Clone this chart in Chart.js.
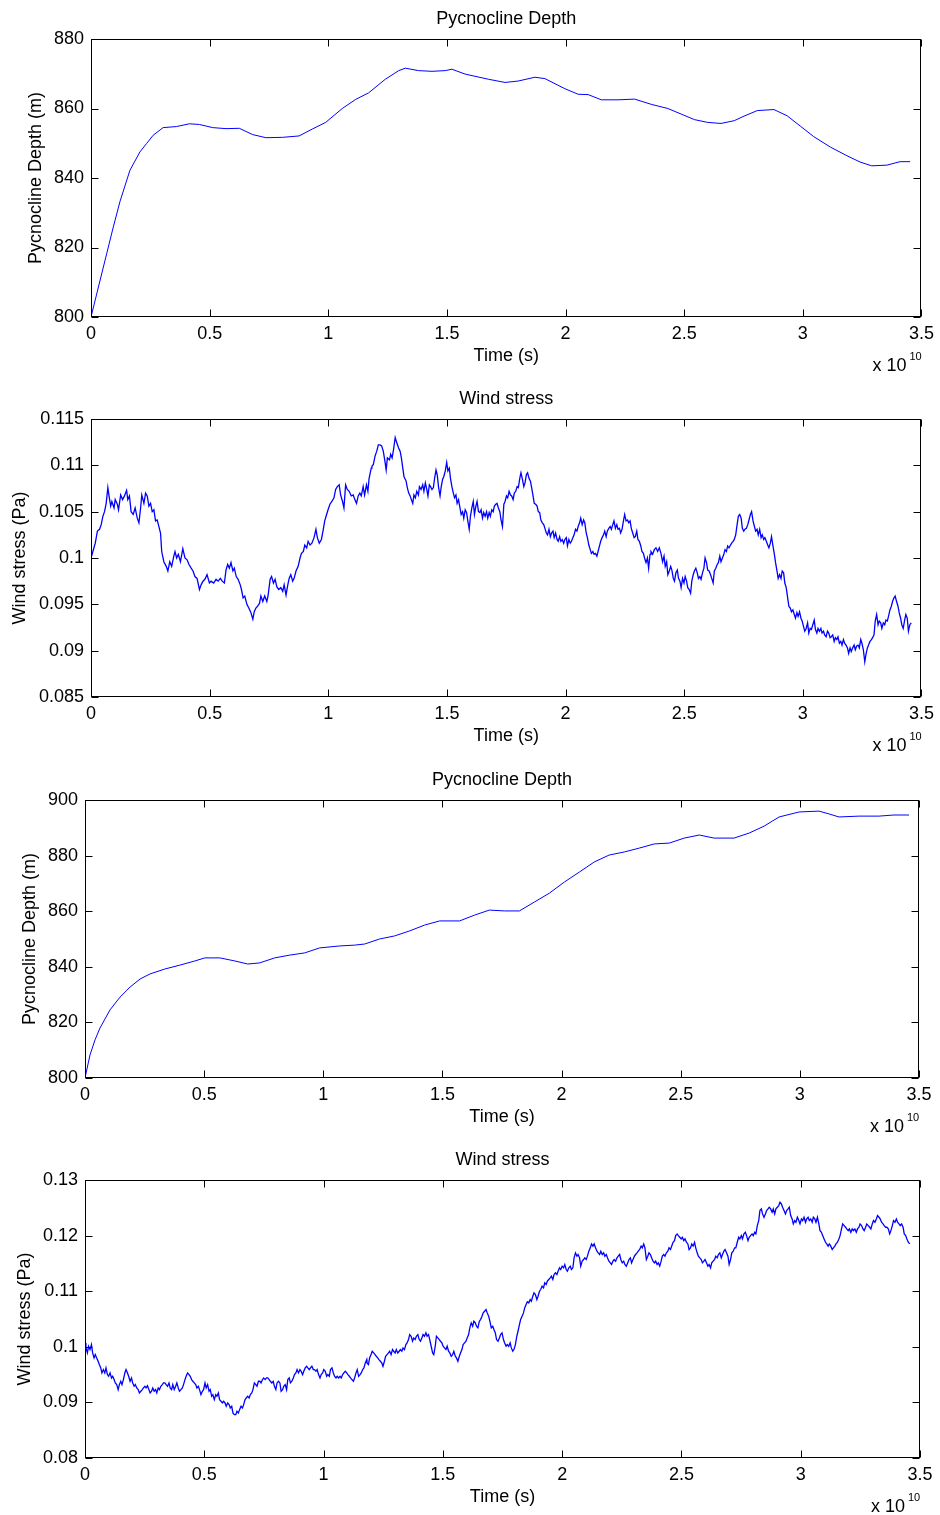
<!DOCTYPE html>
<html>
<head>
<meta charset="utf-8">
<title>Pycnocline depth and wind stress</title>
<script src="https://cdn.jsdelivr.net/npm/chart.js@4.4.1/dist/chart.umd.min.js"></script>
<style>
  html, body { margin: 0; padding: 0; background: #fff; overflow: hidden; }
  .panel { position: absolute; left: 0; width: 940px; }
  .panel canvas { display: block; }
</style>
</head>
<body>
<div class="panel" style="top:0px"><canvas id="depthA" width="940" height="380"></canvas></div>
<div class="panel" style="top:380px"><canvas id="windA" width="940" height="380"></canvas></div>
<div class="panel" style="top:760px"><canvas id="depthB" width="940" height="380"></canvas></div>
<div class="panel" style="top:1140px"><canvas id="windB" width="940" height="375"></canvas></div>
<script>
// Time axis is in units of 1e10 s
const timeTicks = [0, 0.5, 1, 1.5, 2, 2.5, 3, 3.5];
const depthTicksA = [800, 820, 840, 860, 880];
const windTicksA = [0.085, 0.09, 0.095, 0.1, 0.105, 0.11, 0.115];
const depthTicksB = [800, 820, 840, 860, 880, 900];
const windTicksB = [0.08, 0.09, 0.1, 0.11, 0.12, 0.13];

// Run A: pycnocline depth (m)
const depthTimeA = [0, 0.066, 0.094, 0.122, 0.164, 0.206, 0.234, 0.262, 0.304, 0.36, 0.415, 0.457, 0.513, 0.569, 0.625, 0.681, 0.737, 0.807, 0.877, 0.933,
  0.989, 1.059, 1.115, 1.17, 1.24, 1.297, 1.325, 1.38, 1.437, 1.493, 1.521, 1.577, 1.676, 1.745, 1.8, 1.871, 1.913, 1.997, 2.053, 2.095,
  2.151, 2.221, 2.291, 2.361, 2.431, 2.487, 2.543, 2.599, 2.655, 2.711, 2.752, 2.808, 2.878, 2.934, 2.99, 3.046, 3.116, 3.186, 3.241, 3.29,
  3.354, 3.41, 3.452];
const depthA = [800, 818.2, 825.9, 833.2, 842.2, 847.5, 849.9, 852.3, 854.5, 854.8, 855.6, 855.4, 854.5, 854.2, 854.3, 852.5, 851.6, 851.7, 852.1, 854.1,
  856.0, 860.0, 862.6, 864.5, 868.4, 870.9, 871.6, 870.9, 870.7, 870.9, 871.3, 869.9, 868.4, 867.5, 867.9, 869.0, 868.6, 865.7, 864.1, 864.0,
  862.5, 862.5, 862.7, 861.2, 860.0, 858.4, 856.8, 856.0, 855.7, 856.5, 857.8, 859.4, 859.7, 857.9, 854.9, 851.9, 848.9, 846.4, 844.6, 843.5,
  843.7, 844.7, 844.7];

// Run A: wind stress (Pa)
const windTimeA = [0, .008, .018, .027, .036, .043, .050, .057, .064, .071, .076, .083, .088, .097, .102, .111, .116, .125, .133, .141,
  .150, .155, .162, .169, .178, .186, .195, .202, .209, .214, .223, .230, .237, .244, .251, .258, .265, .272, .279, .284,
  .293, .298, .307, .317, .324, .332, .340, .349, .354, .361, .368, .377, .387, .396, .405, .413, .422, .430, .438, .447,
  .457, .464, .472, .480, .489, .499, .506, .517, .527, .536, .545, .553, .562, .569, .576, .583, .590, .598, .604, .612,
  .620, .629, .634, .641, .648, .657, .665, .674, .682, .688, .695, .702, .710, .716, .724, .732, .741, .746, .755, .761,
  .769, .776, .783, .791, .800, .808, .814, .822, .828, .835, .842, .850, .856, .864, .873, .881, .887, .895, .901, .909,
  .915, .923, .931, .940, .948, .954, .962, .971, .979, .985, .993, .999, 1.007, 1.015, 1.024, 1.031, 1.038, 1.046, 1.052, 1.060,
  1.066, 1.073, 1.080, 1.088, 1.097, 1.105, 1.112, 1.119, 1.126, 1.133, 1.139, 1.147, 1.153, 1.161, 1.167, 1.172, 1.181,
  1.184, 1.190, 1.197, 1.204, 1.211, 1.218, 1.225, 1.232, 1.239, 1.244, 1.249, 1.258, 1.263, 1.269, 1.275, 1.282, 1.289, 1.296, 1.303, 1.308,
  1.314, 1.319, 1.328, 1.333, 1.339, 1.345, 1.350, 1.356, 1.361, 1.367, 1.373, 1.380, 1.384, 1.391, 1.398, 1.403, 1.409, 1.415,
  1.420, 1.426, 1.431, 1.437, 1.443, 1.448, 1.454, 1.459, 1.465, 1.471, 1.476, 1.482, 1.487, 1.493, 1.499, 1.504, 1.510, 1.515, 1.521, 1.527,
  1.532, 1.538, 1.543, 1.549, 1.555, 1.560, 1.566, 1.571, 1.577, 1.583, 1.588, 1.594, 1.599, 1.605, 1.611, 1.616, 1.622, 1.627, 1.633, 1.639,
  1.644, 1.650, 1.655, 1.661, 1.667, 1.672, 1.678, 1.683, 1.689, 1.695, 1.700, 1.706, 1.711, 1.717, 1.723, 1.728, 1.734, 1.740, 1.745, 1.751,
  1.756, 1.762, 1.768, 1.773, 1.779, 1.784, 1.790, 1.796, 1.801, 1.807, 1.812, 1.818, 1.824, 1.829, 1.835, 1.840, 1.846, 1.852, 1.857, 1.863,
  1.868, 1.874, 1.880, 1.885, 1.891, 1.896, 1.902, 1.908, 1.913, 1.919, 1.924, 1.930, 1.936, 1.941, 1.947, 1.952, 1.958, 1.964, 1.969, 1.975,
  1.980, 1.986, 1.992, 1.997, 2.003, 2.008, 2.014, 2.020, 2.025, 2.031, 2.036, 2.042, 2.048, 2.053, 2.059, 2.064, 2.070, 2.076, 2.081, 2.087,
  2.092, 2.098, 2.104, 2.109, 2.115, 2.120, 2.126, 2.132, 2.137, 2.143, 2.148, 2.154, 2.160, 2.165, 2.171, 2.176, 2.182, 2.188, 2.193, 2.199,
  2.204, 2.210, 2.216, 2.221, 2.227, 2.232, 2.238, 2.244, 2.249, 2.255, 2.261, 2.266, 2.272, 2.277, 2.283, 2.289, 2.294, 2.300, 2.305, 2.311,
  2.317, 2.322, 2.328, 2.333, 2.339, 2.345, 2.350, 2.356,
  2.360, 2.367, 2.374, 2.381, 2.388, 2.395, 2.402, 2.409,
  2.415, 2.420, 2.426, 2.431, 2.437, 2.443, 2.448, 2.454, 2.459, 2.465, 2.471, 2.476, 2.482, 2.487, 2.493, 2.499, 2.504, 2.510, 2.515, 2.521,
  2.527, 2.532, 2.538, 2.543, 2.549, 2.555, 2.560, 2.566, 2.571, 2.577, 2.583, 2.588, 2.594, 2.599, 2.605, 2.611, 2.616, 2.622, 2.627, 2.633,
  2.639, 2.644, 2.650, 2.655, 2.661, 2.667, 2.672, 2.678, 2.683, 2.689, 2.695, 2.700, 2.706, 2.711, 2.717, 2.723, 2.728, 2.734, 2.740, 2.745,
  2.751, 2.756, 2.762, 2.768, 2.773, 2.779, 2.784, 2.790, 2.796, 2.801, 2.807, 2.812, 2.818, 2.824, 2.829, 2.835, 2.840, 2.846, 2.852, 2.857,
  2.863, 2.868, 2.874, 2.880, 2.885, 2.891, 2.896, 2.902, 2.908, 2.913, 2.919, 2.924, 2.930, 2.936, 2.941, 2.947, 2.952, 2.958, 2.964, 2.969,
  2.975, 2.980, 2.986, 2.992, 2.997, 3.003, 3.008, 3.014, 3.020, 3.025, 3.031, 3.036, 3.042, 3.048, 3.053, 3.059, 3.064, 3.070, 3.076, 3.081,
  3.087, 3.092, 3.098, 3.104, 3.109, 3.115, 3.120, 3.126, 3.132, 3.137, 3.143, 3.148, 3.154, 3.160, 3.165, 3.171, 3.176, 3.182, 3.188, 3.193,
  3.199, 3.204, 3.210, 3.216, 3.221, 3.227, 3.233, 3.238, 3.244, 3.249, 3.255, 3.261, 3.266, 3.272, 3.277, 3.283, 3.289, 3.294, 3.300, 3.305,
  3.311, 3.317, 3.322, 3.328, 3.333, 3.339, 3.345, 3.350, 3.356, 3.361, 3.367, 3.373, 3.378, 3.384, 3.389, 3.395, 3.401, 3.406, 3.412, 3.417,
  3.423, 3.429, 3.434, 3.440, 3.445, 3.451, 3.457];
const windA = [.1000, .1007, .1016, .1029, .1031, .1036, .1045, .1050, .1059, .1076, .1067, .1056, .1061, .1054, .1063, .1058, .1052, .1068, .1063, .1067,
  .1073, .1063, .1067, .1050, .1047, .1054, .1043, .1038, .1054, .1068, .1059, .1070, .1067, .1056, .1059, .1050, .1052, .1040, .1041, .1036,
  .1027, .1007, .0996, .0991, .0986, .0996, .0991, .1002, .1007, .1000, .1004, .0996, .1010, .1000, .0998, .0993, .0989, .0986, .0980, .0978,
  .0966, .0971, .0975, .0977, .0982, .0973, .0975, .0973, .0977, .0975, .0978, .0975, .0973, .0987, .0993, .0989, .0995, .0986, .0989, .0980,
  .0977, .0971, .0966, .0957, .0959, .0950, .0946, .0941, .0934, .0942, .0946, .0948, .0951, .0959, .0953, .0959, .0953, .0959, .0977, .0980,
  .0973, .0977, .0969, .0966, .0968, .0964, .0971, .0960, .0969, .0978, .0982, .0975, .0978, .0986, .0991, .1000, .1005, .1007, .1014, .1011,
  .1018, .1014, .1016, .1022, .1031, .1022, .1016, .1020, .1031, .1040, .1047, .1052, .1058, .1061, .1065, .1074, .1077, .1079, .1068, .1061,
  .1054, .1079, .1074, .1072, .1067, .1068, .1063, .1059, .1067, .1070, .1067, .1077, .1068, .1079, .1072, .1086, .1097,
  .1099, .1101, .1110, .1115, .1122, .1122, .1121, .1115, .1104, .1095, .1108, .1106, .1112, .1108, .1117, .1130, .1124, .1119, .1115, .1108,
  .1097, .1088, .1083, .1076, .1070, .1067, .1063, .1059, .1068, .1065, .1072, .1068, .1077, .1074, .1079, .1072, .1081, .1074,
  .1067, .1079, .1077, .1074, .1076, .1086, .1095, .1090, .1076, .1067, .1077, .1085, .1088, .1094, .1103, .1094, .1097, .1086, .1077, .1070,
  .1065, .1068, .1059, .1063, .1054, .1047, .1050, .1043, .1052, .1049, .1040, .1031, .1045, .1054, .1061, .1047, .1056, .1061, .1050, .1049,
  .1052, .1043, .1049, .1045, .1050, .1043, .1049, .1045, .1052, .1050, .1056, .1058, .1059, .1054, .1050, .1041, .1034, .1058, .1061, .1067,
  .1065, .1072, .1068, .1067, .1063, .1070, .1072, .1077, .1076, .1086, .1092, .1085, .1077, .1081, .1090, .1092, .1086, .1083, .1076, .1067,
  .1059, .1058, .1056, .1050, .1049, .1041, .1038, .1036, .1032, .1027, .1025, .1031, .1023, .1027, .1029, .1022, .1027, .1020, .1018, .1023,
  .1018, .1020, .1016, .1020, .1022, .1013, .1020, .1016, .1018, .1022, .1025, .1031, .1029, .1034, .1038, .1043, .1036, .1041, .1038, .1027,
  .1022, .1014, .1009, .1005, .1007, .1004, .1005, .1002, .1007, .1013, .1018, .1022, .1025, .1029, .1023, .1029, .1032, .1034, .1031, .1036,
  .1040, .1032, .1036, .1031, .1032, .1027, .1031, .1040, .1047, .1040, .1041, .1038, .1040, .1032, .1027, .1022, .1023, .1029, .1020, .1018,
  .1013, .1007, .1005, .1000, .0995, .1000, .0989, .1004,
  .1007, .1004, .1009, .1011, .1007, .1011, .1005, .0996,
  .1002, .0991, .0996, .0982, .0986, .0991, .0987, .0978, .0975, .0984, .0987, .0978, .0975, .0968, .0978, .0973, .0980, .0975, .0968, .0966,
  .0962, .0975, .0982, .0986, .0989, .0984, .0978, .0980, .0977, .0984, .0989, .1000, .0995, .0987, .0986, .0982, .0978, .0973, .0986, .0989,
  .0993, .0995, .1002, .0996, .1000, .1004, .1009, .1007, .1013, .1011, .1014, .1016, .1018, .1020, .1025, .1036, .1045, .1047, .1043, .1032,
  .1029, .1031, .1032, .1036, .1041, .1047, .1050, .1040, .1034, .1029, .1031, .1025, .1031, .1022, .1025, .1020, .1022, .1018, .1014, .1011,
  .1016, .1023, .1013, .1004, .0995, .0986, .0978, .0982, .0978, .0986, .0984, .0973, .0968, .0957, .0948, .0946, .0942, .0944, .0939, .0935,
  .0941, .0937, .0942, .0935, .0932, .0926, .0921, .0924, .0930, .0919, .0924, .0923, .0928, .0933, .0923, .0919, .0924, .0921, .0924, .0919,
  .0921, .0917, .0915, .0921, .0919, .0914, .0915, .0917, .0910, .0914, .0912, .0915, .0908, .0910, .0906, .0912, .0908, .0906, .0903, .0897,
  .0903, .0899, .0903, .0906, .0901, .0905, .0906, .0903, .0912, .0908, .0901, .0888, .0896, .0903, .0906, .0910, .0912, .0914, .0917, .0932,
  .0939, .0928, .0932, .0930, .0924, .0930, .0928, .0933, .0932, .0937, .0944, .0948, .0953, .0957, .0959, .0953, .0948, .0941, .0935, .0928,
  .0924, .0933, .0939, .0935, .0921, .0928, .0930];

// Run B: pycnocline depth (m)
const depthTimeB = [0, 0.021, 0.042, 0.063, 0.105, 0.147, 0.189, 0.231, 0.272, 0.335, 0.398, 0.461, 0.503, 0.566, 0.629, 0.683, 0.733, 0.796, 0.859, 0.922,
  0.985, 1.069, 1.132, 1.174, 1.236, 1.299, 1.362, 1.425, 1.488, 1.572, 1.635, 1.697, 1.76, 1.823, 1.886, 1.949, 2.012, 2.075, 2.137, 2.2,
  2.263, 2.326, 2.389, 2.452, 2.515, 2.578, 2.64, 2.724, 2.787, 2.85, 2.913, 2.997, 3.08, 3.122, 3.164, 3.248, 3.332, 3.395, 3.458];
const depthB = [800, 808.3, 813.7, 818.0, 824.5, 829.1, 832.7, 835.6, 837.4, 839.2, 840.6, 842.1, 843.2, 843.2, 842.1, 841.0, 841.4, 843.2, 844.2, 845.0,
  846.8, 847.5, 847.8, 848.2, 850.0, 851.1, 852.9, 855.0, 856.5, 856.5, 858.6, 860.4, 860.1, 860.1, 863.3, 866.5, 870.5, 874.1, 877.7, 880.2,
  881.3, 882.7, 884.2, 884.5, 886.3, 887.4, 886.3, 886.3, 888.1, 890.6, 893.9, 895.7, 896.0, 895.0, 893.9, 894.2, 894.2, 894.6, 894.6];

// Run B: wind stress (Pa)
const windTimeB = [0, .004, .010, .015, .021, .027, .032, .038, .043, .049, .055, .060, .066, .071, .077, .083, .088, .094, .099, .105,
  .111, .116, .122, .127, .133, .139, .144, .150, .155, .161, .167, .172, .178, .183, .189, .195, .200, .206, .211, .217,
  .223, .228, .234, .240, .245, .251, .256, .262, .268, .273, .279, .284, .290, .296, .301, .307, .312, .318, .324, .329,
  .335, .340, .346, .352, .357, .363, .368, .374, .380, .385, .391, .396, .402, .408, .413, .419, .424, .430, .436, .441,
  .447, .452, .458, .464, .469, .475, .480, .486, .492, .497, .503, .508, .514, .520, .525, .531, .536, .542, .548, .553,
  .559, .564, .570, .576, .581, .587, .592, .598, .604, .609, .615, .620, .626, .632, .637, .643, .648, .654, .660, .665,
  .671, .676, .682, .688, .693, .699, .704, .710, .716, .721, .727, .733, .738, .744, .749, .755, .761, .766, .772, .777,
  .783, .789, .794, .800, .805, .811, .817, .822, .828, .833, .839, .845, .850, .856, .861, .867, .873, .878, .884, .889,
  .895, .901, .906, .912, .917, .923, .929, .934, .940, .945, .951, .957, .962, .968, .973, .979, .985, .990, .996, 1.001,
  1.007, 1.013, 1.018, 1.024, 1.029, 1.035, 1.041, 1.046, 1.052, 1.057, 1.063, 1.069, 1.074, 1.080, 1.085, 1.091, 1.097, 1.102, 1.108, 1.113,
  1.119, 1.125, 1.130, 1.136, 1.141, 1.147, 1.153, 1.158, 1.164, 1.169, 1.175, 1.181,
  1.182, 1.188, 1.193, 1.199, 1.204, 1.210, 1.216, 1.221, 1.227, 1.232, 1.238, 1.244, 1.249, 1.255, 1.260, 1.266, 1.272, 1.277, 1.283, 1.289,
  1.294, 1.300, 1.305, 1.311, 1.317, 1.322, 1.328, 1.333, 1.339, 1.345, 1.350, 1.356, 1.361, 1.367, 1.373, 1.378, 1.384, 1.389, 1.395, 1.401,
  1.406, 1.412, 1.417, 1.423, 1.429, 1.434, 1.440, 1.445, 1.451, 1.457, 1.462, 1.468, 1.473, 1.479, 1.485, 1.490, 1.496, 1.501, 1.507, 1.513,
  1.518, 1.524, 1.529, 1.535, 1.541, 1.546, 1.552, 1.557, 1.563, 1.569, 1.574, 1.580, 1.585, 1.591, 1.597, 1.602, 1.608, 1.613, 1.619, 1.625,
  1.630, 1.636, 1.641, 1.647, 1.653, 1.658, 1.664, 1.669, 1.675, 1.681, 1.686, 1.692, 1.697, 1.703, 1.709, 1.714, 1.720, 1.725, 1.731, 1.737,
  1.742, 1.748, 1.754, 1.759, 1.765, 1.770, 1.776, 1.782, 1.787, 1.793, 1.798, 1.804, 1.810, 1.815, 1.821, 1.826, 1.832, 1.838, 1.843, 1.849,
  1.854, 1.860, 1.866, 1.871, 1.877, 1.882, 1.888, 1.894, 1.899, 1.905, 1.910, 1.916, 1.922, 1.927, 1.933, 1.938, 1.944, 1.950, 1.955, 1.961,
  1.966, 1.972, 1.978, 1.983, 1.989, 1.994, 2.000, 2.006, 2.011, 2.017, 2.022, 2.028, 2.034, 2.039, 2.045, 2.050, 2.056, 2.062, 2.067, 2.073,
  2.078, 2.084, 2.090, 2.095, 2.101, 2.106, 2.112, 2.118, 2.123, 2.129, 2.134, 2.140, 2.146, 2.151, 2.157, 2.162, 2.168, 2.174, 2.179, 2.185,
  2.190, 2.196, 2.202, 2.207, 2.213, 2.218, 2.224, 2.230, 2.235, 2.241, 2.246, 2.252, 2.258, 2.263, 2.269, 2.275, 2.280, 2.286, 2.291, 2.297,
  2.303, 2.308, 2.314, 2.319, 2.325, 2.331, 2.336, 2.342, 2.347, 2.353,
  2.359, 2.364, 2.370, 2.375, 2.381, 2.387, 2.392, 2.398, 2.403, 2.409, 2.415, 2.420, 2.426, 2.431, 2.437, 2.443, 2.448, 2.454, 2.459, 2.465,
  2.471, 2.476, 2.482, 2.487, 2.493, 2.499, 2.504, 2.510, 2.515, 2.521, 2.527, 2.532, 2.538, 2.543, 2.549, 2.555, 2.560, 2.566, 2.571, 2.577,
  2.583, 2.588, 2.594, 2.599, 2.605, 2.611, 2.616, 2.622, 2.627, 2.633, 2.639, 2.644, 2.650, 2.655, 2.661, 2.667, 2.672, 2.678, 2.683, 2.689,
  2.695, 2.700, 2.706, 2.711, 2.717, 2.723, 2.728, 2.734, 2.740, 2.745, 2.751, 2.756, 2.762, 2.768, 2.773, 2.779, 2.784, 2.790, 2.796, 2.801,
  2.807, 2.812, 2.818, 2.824, 2.829, 2.835, 2.840, 2.846, 2.852, 2.857, 2.863, 2.868, 2.874, 2.880, 2.885, 2.891, 2.896, 2.902, 2.908, 2.913,
  2.919, 2.924, 2.930, 2.936, 2.941, 2.947, 2.952, 2.958, 2.964, 2.969, 2.975, 2.980, 2.986, 2.992, 2.997, 3.003, 3.008, 3.014, 3.020, 3.025,
  3.031, 3.036, 3.042, 3.048, 3.053, 3.059, 3.064, 3.070, 3.076, 3.081, 3.087, 3.092, 3.098, 3.104, 3.109, 3.115, 3.120, 3.126, 3.132, 3.137,
  3.143, 3.148, 3.154, 3.160, 3.165, 3.171, 3.176, 3.182, 3.188, 3.193, 3.199, 3.204, 3.210, 3.216, 3.221, 3.227, 3.233, 3.238, 3.244, 3.249,
  3.255, 3.261, 3.266, 3.272, 3.277, 3.283, 3.289, 3.294, 3.300, 3.305, 3.311, 3.317, 3.322, 3.328, 3.333, 3.339, 3.345, 3.350, 3.356, 3.361,
  3.367, 3.373, 3.378, 3.384, 3.389, 3.395, 3.401, 3.406, 3.412, 3.417, 3.423, 3.429, 3.434, 3.440, 3.445, 3.451, 3.457];
const windB = [.1007, .0998, .0989, .1001, .0995, .1004, .0989, .0980, .0986, .0980, .0974, .0968, .0962, .0953, .0959, .0953, .0962, .0950, .0947, .0953,
  .0944, .0947, .0941, .0935, .0932, .0923, .0932, .0938, .0932, .0941, .0953, .0959, .0953, .0947, .0938, .0944, .0935, .0929, .0932, .0926,
  .0923, .0917, .0920, .0923, .0926, .0929, .0926, .0930, .0923, .0917, .0920, .0926, .0920, .0923, .0917, .0926, .0923, .0929, .0932, .0935,
  .0935, .0932, .0929, .0935, .0926, .0923, .0932, .0923, .0929, .0935, .0926, .0920, .0923, .0926, .0932, .0941, .0947, .0953, .0950, .0947,
  .0941, .0938, .0935, .0932, .0926, .0929, .0923, .0914, .0920, .0923, .0935, .0926, .0932, .0920, .0923, .0911, .0914, .0905, .0914, .0911,
  .0917, .0905, .0902, .0899, .0902, .0899, .0893, .0899, .0896, .0890, .0893, .0881, .0878, .0878, .0884, .0881, .0887, .0893, .0890, .0896,
  .0905, .0908, .0911, .0908, .0914, .0917, .0923, .0935, .0932, .0929, .0938, .0938, .0935, .0941, .0944, .0941, .0944, .0944, .0941, .0938,
  .0935, .0938, .0929, .0923, .0935, .0938, .0935, .0920, .0923, .0929, .0932, .0923, .0941, .0944, .0935, .0938, .0944, .0950, .0953, .0959,
  .0953, .0959, .0956, .0950, .0956, .0962, .0965, .0962, .0959, .0962, .0965, .0959, .0959, .0956, .0959, .0950, .0944, .0950, .0953, .0959,
  .0956, .0947, .0950, .0947, .0959, .0962, .0953, .0947, .0944, .0947, .0944, .0947, .0944, .0950, .0953, .0956, .0953, .0950, .0947, .0944,
  .0941, .0938, .0944, .0953, .0959, .0947, .0950, .0953, .0959, .0962, .0971, .0977,
  .0971, .0968, .0980, .0986, .0992, .0989, .0986, .0983, .0980, .0977, .0974, .0971, .0965, .0974, .0983, .0986, .0989, .0992, .0986, .0995,
  .0992, .0989, .0995, .0989, .0992, .0995, .0992, .0998, .0995, .1004, .1007, .1013, .1022, .1019, .1010, .1016, .1013, .1019, .1022, .1013,
  .1010, .1016, .1022, .1019, .1025, .1019, .1022, .1013, .1001, .0989, .0986, .1001, .1019, .1016, .1013, .1010, .1007, .1001, .0998, .0995,
  .1001, .0992, .0989, .0983, .0986, .0992, .0983, .0980, .0974, .0983, .0989, .0995, .1004, .1007, .1010, .1016, .1022, .1034, .1043, .1037,
  .1046, .1043, .1037, .1034, .1046, .1049, .1055, .1061, .1064, .1067, .1061, .1055, .1046, .1034, .1037, .1031, .1025, .1013, .1010, .1016,
  .1022, .1025, .1013, .1007, .1001, .1004, .1001, .1007, .0998, .0992, .0995, .1004, .1019, .1028, .1040, .1049, .1055, .1061, .1070, .1076,
  .1081, .1079, .1085, .1082, .1091, .1097, .1094, .1085, .1091, .1100, .1103, .1109, .1106, .1115, .1112, .1118, .1121, .1124, .1127, .1121,
  .1130, .1133, .1130, .1136, .1142, .1139, .1145, .1142, .1148, .1139, .1136, .1142, .1145, .1139, .1142, .1160, .1169, .1163, .1166, .1160,
  .1145, .1154, .1157, .1160, .1157, .1163, .1172, .1178, .1185, .1181, .1185, .1178, .1172, .1169, .1166, .1172, .1166, .1169, .1163, .1166,
  .1160, .1154, .1151, .1148, .1154, .1157, .1154, .1160, .1163, .1166, .1157, .1151, .1154, .1148, .1145, .1151, .1157, .1160, .1151, .1157,
  .1163, .1166, .1169, .1172, .1175, .1181, .1178, .1185, .1178, .1157,
  .1163, .1169, .1166, .1160, .1154, .1151, .1154, .1148, .1151, .1145, .1154, .1163, .1166, .1163, .1169, .1172, .1178, .1175, .1181, .1188,
  .1191, .1200, .1203, .1200, .1197, .1194, .1197, .1191, .1194, .1188, .1185, .1175, .1178, .1185, .1181, .1188, .1178, .1169, .1163, .1160,
  .1157, .1151, .1154, .1157, .1151, .1145, .1148, .1142, .1151, .1154, .1157, .1163, .1160, .1166, .1169, .1160, .1166, .1172, .1175, .1169,
  .1163, .1148, .1157, .1169, .1172, .1178, .1178, .1188, .1197, .1194, .1200, .1194, .1203, .1206, .1200, .1191, .1197, .1200, .1203, .1200,
  .1206, .1203, .1218, .1227, .1245, .1248, .1239, .1233, .1239, .1245, .1248, .1251, .1248, .1242, .1248, .1239, .1248, .1251, .1254, .1260,
  .1257, .1251, .1245, .1239, .1245, .1248, .1251, .1236, .1230, .1221, .1227, .1224, .1233, .1227, .1221, .1230, .1227, .1233, .1224, .1230,
  .1233, .1227, .1230, .1224, .1233, .1230, .1224, .1233, .1221, .1209, .1206, .1200, .1194, .1188, .1185, .1181, .1185, .1181, .1175, .1178,
  .1181, .1185, .1188, .1194, .1200, .1212, .1221, .1218, .1215, .1212, .1209, .1212, .1206, .1212, .1209, .1212, .1206, .1212, .1215, .1221,
  .1218, .1212, .1209, .1215, .1221, .1218, .1215, .1212, .1221, .1227, .1224, .1230, .1236, .1233, .1230, .1224, .1221, .1218, .1215, .1215,
  .1212, .1203, .1209, .1218, .1227, .1224, .1230, .1224, .1221, .1218, .1221, .1215, .1203, .1200, .1194, .1188, .1185];

Chart.defaults.font.family = '"Liberation Sans", Arial, Helvetica, sans-serif';
Chart.defaults.font.size = 18;
Chart.defaults.color = '#000';

const fmtTick = v => String(+Number(v).toFixed(4));
const X_AXIS_HEIGHT = 50;

// Boxed axes with inward ticks on all four sides and the x-axis exponent
const boxedAxes = {
  id: 'boxedAxes',
  afterDraw(chart) {
    const { ctx, chartArea: a, scales: { x, y } } = chart;
    const len = 7;
    const L = Math.round(a.left) + 0.5, R = Math.round(a.right) - 0.5;
    const T = Math.round(a.top) + 0.5, B = Math.round(a.bottom) - 0.5;
    ctx.save();
    ctx.strokeStyle = '#000';
    ctx.lineWidth = 1;
    ctx.beginPath();
    x.ticks.forEach(t => {
      const px = Math.round(x.getPixelForValue(t.value)) + 0.5;
      ctx.moveTo(px, B); ctx.lineTo(px, B - len);
      ctx.moveTo(px, T); ctx.lineTo(px, T + len);
    });
    y.ticks.forEach(t => {
      const py = Math.round(y.getPixelForValue(t.value)) + 0.5;
      ctx.moveTo(L, py); ctx.lineTo(L + len, py);
      ctx.moveTo(R, py); ctx.lineTo(R - len, py);
    });
    ctx.stroke();
    ctx.strokeRect(L, T, R - L, B - T);

    ctx.fillStyle = '#000';
    ctx.textBaseline = 'alphabetic';
    ctx.font = '18px "Liberation Sans", Arial, sans-serif';
    ctx.textAlign = 'right';
    ctx.fillText('x 10', a.right - 15, a.bottom + 54);
    ctx.font = '11px "Liberation Sans", Arial, sans-serif';
    ctx.textAlign = 'left';
    ctx.fillText('10', a.right - 12, a.bottom + 43);
    ctx.restore();
  }
};

function drawPanel(p) {
  const n = Math.min(p.time.length, p.values.length);
  const points = [];
  for (let i = 0; i < n; i++) points.push({ x: p.time[i], y: p.values[i] });
  const canvas = document.getElementById(p.id);

  return new Chart(canvas.getContext('2d'), {
    type: 'line',
    data: {
      datasets: [{
        data: points,
        borderColor: '#0000ff',
        borderWidth: p.lineWidth,
        pointRadius: 0,
        tension: 0,
        fill: false
      }]
    },
    options: {
      responsive: false,
      animation: false,
      events: [],
      layout: {
        padding: { left: 0, top: 0, right: canvas.width - p.right, bottom: canvas.height - p.bottom - X_AXIS_HEIGHT }
      },
      plugins: {
        legend: { display: false },
        tooltip: { enabled: false },
        title: {
          display: true,
          text: p.title,
          fullSize: false,
          color: '#000',
          font: { size: 18, weight: 'normal' },
          padding: { top: p.top - 31.2, bottom: 9.6 }
        }
      },
      scales: {
        x: {
          type: 'linear',
          min: 0,
          max: 3.5,
          afterBuildTicks: s => { s.ticks = timeTicks.map(v => ({ value: v })); },
          afterFit: s => { s.height = X_AXIS_HEIGHT; },
          grid: { display: false, drawTicks: false },
          border: { display: false },
          ticks: { callback: fmtTick, padding: 6, maxRotation: 0, autoSkip: false },
          title: { display: true, text: 'Time (s)', padding: 0 }
        },
        y: {
          type: 'linear',
          min: p.yTicks[0],
          max: p.yTicks[p.yTicks.length - 1],
          afterBuildTicks: s => { s.ticks = p.yTicks.map(v => ({ value: v })); },
          afterFit: s => { s.width = p.left; },
          grid: { display: false, drawTicks: false },
          border: { display: false },
          ticks: { callback: fmtTick, padding: 7, autoSkip: false },
          title: { display: true, text: p.yTitle, padding: { top: p.yTitleX - 10.8, bottom: 0 } }
        }
      }
    },
    plugins: [boxedAxes]
  });
}

[
  { id: 'depthA', title: 'Pycnocline Depth', yTitle: 'Pycnocline Depth (m)', time: depthTimeA, values: depthA, yTicks: depthTicksA,
    left: 91, right: 925, top: 39, bottom: 317, yTitleX: 36, lineWidth: 1 },
  { id: 'windA', title: 'Wind stress', yTitle: 'Wind stress (Pa)', time: windTimeA, values: windA, yTicks: windTicksA,
    left: 91, right: 925, top: 39, bottom: 317, yTitleX: 20, lineWidth: 1.3 },
  { id: 'depthB', title: 'Pycnocline Depth', yTitle: 'Pycnocline Depth (m)', time: depthTimeB, values: depthB, yTicks: depthTicksB,
    left: 85, right: 919, top: 40, bottom: 318, yTitleX: 30, lineWidth: 1 },
  { id: 'windB', title: 'Wind stress', yTitle: 'Wind stress (Pa)', time: windTimeB, values: windB, yTicks: windTicksB,
    left: 85, right: 920, top: 40, bottom: 318, yTitleX: 25, lineWidth: 1.3 }
].forEach(drawPanel);
</script>
</body>
</html>
